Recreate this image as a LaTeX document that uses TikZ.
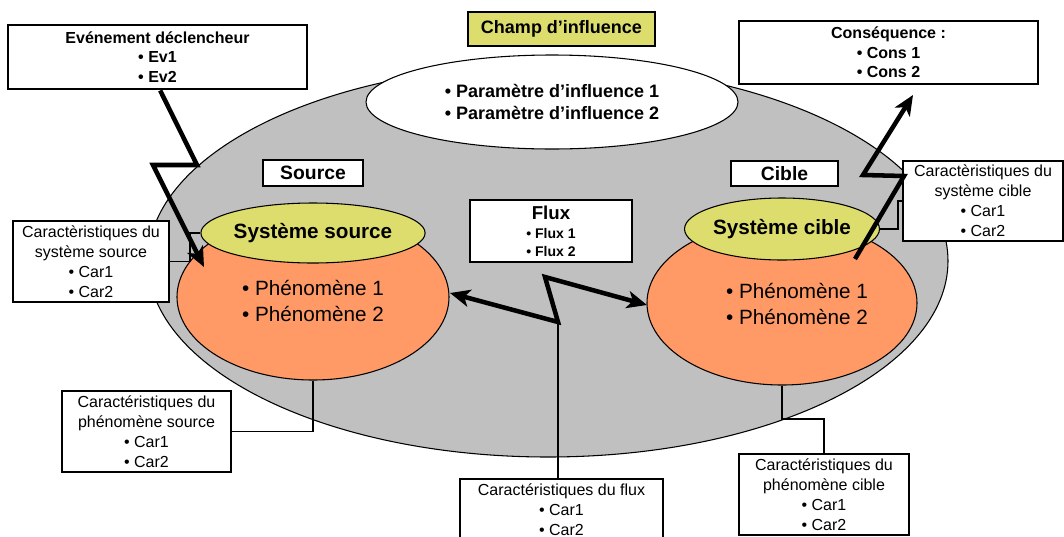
\documentclass[tikz,border=0pt]{standalone}
\usepackage{fontspec}
\setmainfont{Liberation Sans}
\usetikzlibrary{shapes.geometric,arrows.meta}
\definecolor{fieldgray}{RGB}{192,192,192}
\definecolor{sysyellow}{RGB}{221,221,110}
\definecolor{phenorange}{RGB}{255,153,102}
\tikzset{
  charbox/.style={draw, fill=white, line width=0.9pt, inner sep=0pt, align=center,
    font=\fontsize{12}{15}\selectfont},
  heavybox/.style={draw, fill=white, line width=2.2pt, inner sep=0pt, align=center,
    font=\bfseries\fontsize{12}{14.6}\selectfont},
  titlebox/.style={draw, fill=white, line width=0.9pt, inner sep=0pt,
    font=\bfseries\fontsize{14.5}{17}\selectfont},
  sysell/.style={ellipse, draw, fill=sysyellow, line width=0.8pt, inner sep=0pt,
    font=\bfseries\fontsize{15.5}{18}\selectfont},
  phenell/.style={ellipse, draw, fill=phenorange, line width=0.8pt, inner sep=0pt},
  phentext/.style={align=left, inner sep=0pt, font=\fontsize{15.5}{19.5}\selectfont},
  bigarrow/.style={line width=3.4pt, -{Stealth[length=15pt,width=13pt,inset=4pt]}},
  bigdouble/.style={line width=3.4pt, {Stealth[length=15pt,width=13pt,inset=4pt]}-{Stealth[length=15pt,width=13pt,inset=4pt]}},
  link/.style={line width=0.9pt},
}
\begin{document}
\begin{tikzpicture}[x=0.75pt,y=-0.75pt]
\useasboundingbox (0,0) rectangle (1064,536);
\clip (0,0) rectangle (1064,536);

% field of influence
\node[ellipse, draw, fill=fieldgray, line width=0.8pt, inner sep=0pt,
  minimum width=600pt, minimum height=294pt] (field) at (548,261) {};
\node[ellipse, draw, fill=white, line width=0.8pt, inner sep=0pt, align=center,
  minimum width=279pt, minimum height=70.5pt,
  font=\bfseries\fontsize{13.5}{16.3}\selectfont] (param) at (552,102)
  {• Paramètre d’influence 1\\• Paramètre d’influence 2};
\node[draw, fill=sysyellow, line width=0.9pt, inner sep=0pt,
  minimum width=140.25pt, minimum height=25.5pt,
  font=\bfseries\fontsize{13.5}{16}\selectfont] (champ) at (561.5,29) {Champ d’influence};

% top boxes
\node[heavybox, minimum width=224.25pt, minimum height=48pt] (ev) at (157.5,57)
  {Evénement déclencheur\\• Ev1\\• Ev2};
\node[heavybox, minimum width=224.25pt, minimum height=47.25pt] (cons) at (888.5,52.5)
  {Conséquence :\\• Cons 1\\• Cons 2};

% labels
\node[titlebox, minimum width=75pt, minimum height=19.5pt] (source) at (313,173) {Source};
\node[titlebox, minimum width=80.25pt, minimum height=18.75pt] (cible) at (784.5,173.5) {Cible};

% flux box
\node[draw, fill=white, line width=0.9pt, inner sep=0pt, align=center,
  minimum width=121.5pt, minimum height=46.5pt,
  font=\bfseries\fontsize{10.5}{13.5}\selectfont] (flux) at (551,231)
  {{\fontsize{14}{16}\selectfont Flux}\\[1pt]• Flux 1\\• Flux 2};

% source system
\node[phenell, minimum width=204pt, minimum height=124.5pt] (osrc) at (313,297) {};
\node[phentext] (tsrc) at (313,301) {• Phénomène 1\\• Phénomène 2};
\node[sysell, minimum width=154.5pt, minimum height=45pt] (ysrc) at (313,233) {Système source};

% target system
\node[phenell, minimum width=202.5pt, minimum height=123pt] (ocib) at (782,303) {};
\node[phentext] (tcib) at (797,303.5) {• Phénomène 1\\• Phénomène 2};
\node[sysell, minimum width=124.5pt, minimum height=46.5pt] (ycib) at (782,229) {Système cible};

% characteristic boxes
\node[charbox, minimum width=117pt, minimum height=60.75pt] (csyssrc) at (91,261.5)
  {Caractèristiques du\\système source\\• Car1\\• Car2};
\node[charbox, minimum width=126.75pt, minimum height=60.75pt] (cphensrc) at (146.5,431.5)
  {Caractéristiques du\\phénomène source\\• Car1\\• Car2};
\node[charbox, minimum width=152.25pt, minimum height=46.5pt] (cflux) at (561.5,510)
  {Caractéristiques du flux\\• Car1\\• Car2};
\node[charbox, minimum width=120pt, minimum height=60pt] (csyscib) at (983,201)
  {Caractèristiques du\\système cible\\• Car1\\• Car2};
\node[charbox, minimum width=127.5pt, minimum height=60.75pt] (cphencib) at (824,494.5)
  {Caractéristiques du\\phénomène cible\\• Car1\\• Car2};

% thin links
\draw[link] (csyssrc.east) -- (190,261.5) |- (ysrc.west);
\draw[link] (cphensrc.east) -| (osrc.south);
\draw[link] (csyscib.west) -- (898,201) |- (ycib.east);
\draw[link] (ocib.south) -- (782,419) -| (cphencib.north);

% flux arrow
\coordinate (fl) at (450,293);
\coordinate (fz1) at (558,322);
\coordinate (fz2) at (545,277);
\coordinate (fr) at (647,305);
\draw[link] (fz1) -- (fz1 |- cflux.north);
\draw[bigdouble] (fl) -- (fz1) -- (fz2) -- (fr);

% trigger arrow
\coordinate (ev1) at (197,165);
\coordinate (ev2) at (153,165);
\coordinate (evend) at (204,267);
\draw[bigarrow] ([xshift=2pt]ev.south) -- (ev1) -- (ev2) -- (evend);

% consequence arrow
\coordinate (cs0) at (855,259);
\coordinate (cs1) at (904,176);
\coordinate (cs2) at (863,175);
\coordinate (csend) at (913,95);
\draw[bigarrow] (cs0) -- (cs1) -- (cs2) -- (csend);
\end{tikzpicture}
\end{document}
